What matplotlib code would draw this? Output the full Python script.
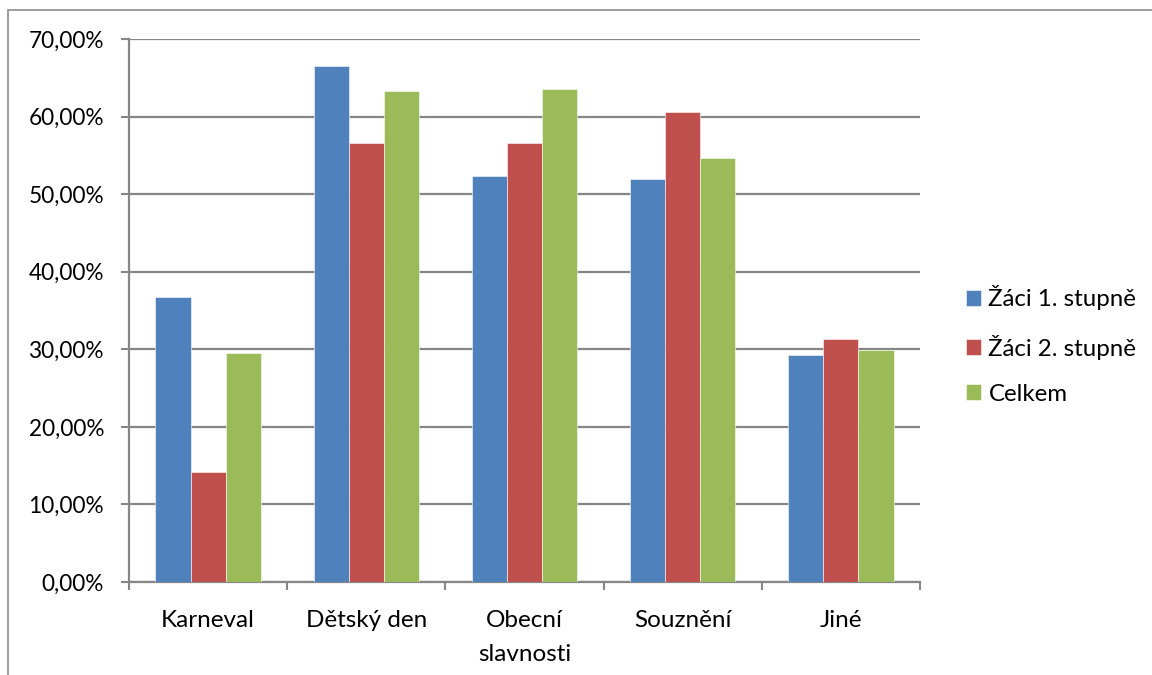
import matplotlib
matplotlib.use("Agg")
import matplotlib.pyplot as plt
import numpy as np
from matplotlib.patches import Rectangle
from matplotlib.ticker import FuncFormatter

categories = ["Karneval", "Dětský den", "Obecní\nslavnosti", "Souznění", "Jiné"]
series_names = ["Žáci 1. stupně", "Žáci 2. stupně", "Celkem"]
zaci1 = [36.8, 66.5, 52.3, 51.9, 29.3]
zaci2 = [14.15, 56.55, 56.55, 60.6, 31.3]
celkem = [29.55, 63.3, 63.6, 54.65, 29.9]
colors = ["#4F81BD", "#C0504D", "#9BBB59"]
y_ticks = [0, 10, 20, 30, 40, 50, 60, 70]

plt.rcParams['font.family'] = ['Lato', 'DejaVu Sans']

fig = plt.figure(figsize=(11.52, 6.75), dpi=100)
ax = fig.add_axes([129/1152, 1-582/675, (920-129)/1152, (582-39)/675])

# outer chart border
fig.patches.append(Rectangle((8/1152, -0.01), 1.2, 1-10/675+0.01, transform=fig.transFigure,
                             fill=False, edgecolor="#8C8C8C", linewidth=1.2))

x = np.arange(len(categories))
w = 2/9
for i, (vals, name) in enumerate(zip([zaci1, zaci2, celkem], series_names)):
    ax.bar(x + (i-1)*w, vals, width=w, color=colors[i], label=name, zorder=3,
           edgecolor="white", linewidth=0.4)

ax.set_xlim(-0.5, len(categories)-0.5)
ax.set_ylim(0, 70)
ax.set_yticks(y_ticks)
ax.yaxis.set_major_formatter(FuncFormatter(lambda v, p: f"{v:.2f}".replace(".", ",") + "%"))
ax.grid(axis="y", color="#868686", linewidth=1.6, zorder=0)
ax.set_xticks(x)
ax.set_xticklabels(categories, fontsize=17.5, linespacing=1.75)
ax.set_xticks(np.arange(len(categories)+1)-0.5, minor=True)
ax.tick_params(axis="x", which="major", length=0, pad=20)
ax.tick_params(axis="x", which="minor", length=6, color="#868686", width=1.5)
ax.tick_params(axis="y", length=6, color="#868686", width=1.5, labelsize=16.3, pad=12)
for s in ["top", "right"]:
    ax.spines[s].set_visible(False)
for s in ["left", "bottom"]:
    ax.spines[s].set_color("#868686")
    ax.spines[s].set_linewidth(1.6)

leg = fig.legend(loc="center left", bbox_to_anchor=(944/1152, 1-345/675), frameon=False,
                 fontsize=17.3, handlelength=0.65, handleheight=0.65, handletextpad=0.3,
                 labelspacing=1.0)

fig.savefig("out.png", dpi=100)
